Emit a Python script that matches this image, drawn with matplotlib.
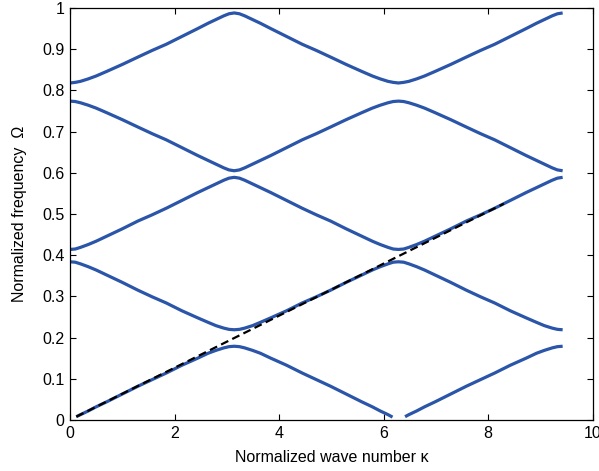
import numpy as np
import matplotlib
matplotlib.use("Agg")
import matplotlib.pyplot as plt

plt.rcParams['font.family'] = ['Liberation Sans', 'DejaVu Sans']

# Normalized wave number grid (three half-zones: 0..pi, pi..2pi, 2pi..3pi)
kappa = [0.0, 0.1, 0.2, 0.35, 0.5, 0.7, 1.0, 1.3, 1.5708, 1.8416, 2.1416,
         2.4416, 2.6416, 2.7916, 2.9416, 3.0416, 3.1416,
         3.2416, 3.3416, 3.4916, 3.6416, 3.8416, 4.1416, 4.4416, 4.7124,
         4.9832, 5.2832, 5.5832, 5.7832, 5.9332, 6.0832, 6.1832, 6.2832,
         6.3832, 6.4832, 6.6332, 6.7832, 6.9832, 7.2832, 7.5832, 7.854,
         8.1248, 8.4248, 8.7248, 8.9248, 9.0748, 9.2248, 9.3248, 9.4248]

# Lowest (acoustic) branch, broken near kappa = 2*pi
kappa_b1 = [0.12, 0.2, 0.35, 0.5, 0.7, 1.0, 1.3, 1.5708, 1.8416, 2.1416,
            2.4416, 2.6416, 2.7916, 2.9416, 3.0416, 3.1416,
            3.2416, 3.3416, 3.4916, 3.6416, 3.8416, 4.1416, 4.4416, 4.7124,
            4.9832, 5.2832, 5.5832, 5.7832, 5.9332, 6.0832, 6.17, np.nan,
            6.41, 6.4832, 6.6332, 6.7832, 6.9832, 7.2832, 7.5832, 7.854,
            8.1248, 8.4248, 8.7248, 8.9248, 9.0748, 9.2248, 9.3248, 9.4248]
omega_b1 = [0.008, 0.013, 0.022, 0.032, 0.044, 0.063, 0.082, 0.098, 0.114,
            0.133, 0.150, 0.162, 0.169, 0.175, 0.178, 0.179,
            0.178, 0.175, 0.169, 0.162, 0.150, 0.133, 0.114, 0.098, 0.082,
            0.063, 0.044, 0.032, 0.022, 0.013, 0.007, np.nan,
            0.008, 0.013, 0.022, 0.032, 0.044, 0.063, 0.082, 0.098, 0.114,
            0.133, 0.150, 0.162, 0.169, 0.175, 0.178, 0.179]

omega_b2 = [0.384, 0.383, 0.379, 0.372, 0.364, 0.352, 0.334, 0.315, 0.299,
            0.284, 0.265, 0.248, 0.237, 0.229, 0.223, 0.220, 0.219,
            0.220, 0.223, 0.229, 0.237, 0.248, 0.265, 0.284, 0.299, 0.315,
            0.334, 0.352, 0.364, 0.372, 0.379, 0.383, 0.384,
            0.383, 0.379, 0.372, 0.364, 0.352, 0.334, 0.315, 0.299, 0.284,
            0.265, 0.248, 0.237, 0.229, 0.223, 0.220, 0.219]

omega_b3 = [0.414, 0.415, 0.419, 0.426, 0.434, 0.446, 0.464, 0.483, 0.498,
            0.514, 0.533, 0.552, 0.564, 0.573, 0.582, 0.587, 0.589,
            0.587, 0.582, 0.573, 0.564, 0.552, 0.533, 0.514, 0.498, 0.483,
            0.464, 0.446, 0.434, 0.426, 0.419, 0.415, 0.414,
            0.415, 0.419, 0.426, 0.434, 0.446, 0.464, 0.483, 0.498, 0.514,
            0.533, 0.552, 0.564, 0.573, 0.582, 0.587, 0.589]

omega_b4 = [0.774, 0.773, 0.770, 0.764, 0.757, 0.746, 0.729, 0.711, 0.695,
            0.680, 0.661, 0.642, 0.630, 0.621, 0.612, 0.607, 0.605,
            0.607, 0.612, 0.621, 0.630, 0.642, 0.661, 0.680, 0.695, 0.711,
            0.729, 0.746, 0.757, 0.764, 0.770, 0.773, 0.774,
            0.773, 0.770, 0.764, 0.757, 0.746, 0.729, 0.711, 0.695, 0.680,
            0.661, 0.642, 0.630, 0.621, 0.612, 0.607, 0.605]

omega_b5 = [0.818, 0.8195, 0.822, 0.828, 0.835, 0.846, 0.863, 0.881, 0.897,
            0.912, 0.931, 0.950, 0.963, 0.972, 0.981, 0.986, 0.988,
            0.986, 0.981, 0.972, 0.963, 0.950, 0.931, 0.912, 0.897, 0.881,
            0.863, 0.846, 0.835, 0.828, 0.822, 0.8195, 0.818,
            0.8195, 0.822, 0.828, 0.835, 0.846, 0.863, 0.881, 0.897, 0.912,
            0.931, 0.950, 0.963, 0.972, 0.981, 0.986, 0.988]

# Long-wavelength (homogenized) asymptote
kappa_asym = [0.12, 8.30]
omega_asym = [0.008, 0.525]

xticks = [0, 2, 4, 6, 8, 10]
yticks = [0, 0.1, 0.2, 0.3, 0.4, 0.5, 0.6, 0.7, 0.8, 0.9, 1.0]
ytick_labels = ['0', '0.1', '0.2', '0.3', '0.4', '0.5', '0.6', '0.7',
                '0.8', '0.9', '1']

blue = '#2a55a8'

fig = plt.figure(figsize=(5.99, 4.71), dpi=100)
ax = fig.add_axes([0.1169, 0.1083, 0.8726, 0.8747])

lw = 2.3
ax.plot(kappa_b1, omega_b1, color=blue, lw=lw, solid_capstyle='butt',
        solid_joinstyle='round')
for om in (omega_b2, omega_b3, omega_b4, omega_b5):
    ax.plot(kappa, om, color=blue, lw=lw, solid_capstyle='butt',
            solid_joinstyle='round')

ax.plot(kappa_asym, omega_asym, color='black', lw=1.6, ls=(0, (3.6, 2.0)))

ax.set_xlim(0, 10)
ax.set_ylim(0, 1)
ax.set_xticks(xticks)
ax.set_yticks(yticks)
ax.set_yticklabels(ytick_labels)
ax.tick_params(direction='in', length=4, width=0.8, top=True, right=True,
               labelsize=11.5, pad=4)
for sp in ax.spines.values():
    sp.set_linewidth(0.9)

ax.set_xlabel('Normalized wave number \u03ba', fontsize=11.5, labelpad=7)
ax.set_ylabel('Normalized frequency  \u03a9', fontsize=11.5, labelpad=11)

fig.savefig('out.png', dpi=100)
